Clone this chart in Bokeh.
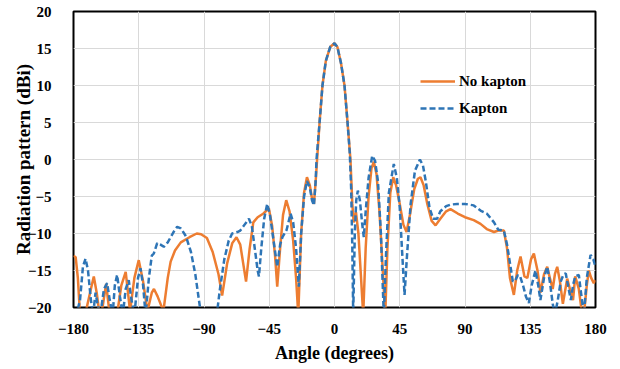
from bokeh.plotting import figure
from bokeh.models import FixedTicker
from bokeh.embed import file_html
from bokeh.resources import INLINE

# ---- data ----
x_ticks = [-180, -135, -90, -45, 0, 45, 90, 135, 180]
y_ticks = [-20, -15, -10, -5, 0, 5, 10, 15, 20]

nk_angle = [-180, -178.5, -177, -175.5, -172, -168, -166, -164, -162, -160, -157.5, -155,
            -150, -147, -144, -141, -138, -135, -132, -129, -126, -124.5, -122, -118, -115,
            -113, -110, -106, -100, -95, -92, -88, -84, -80, -77.5, -74, -70.5, -67.6, -65,
            -63, -61, -58.5, -56, -53, -49, -45.3, -43, -41, -39.5, -37.5, -35.5, -33.3, -31,
            -28.5, -26.5, -25, -23, -21, -19, -17, -15.5, -14.2, -13, -12, -10.3, -8.3, -6,
            -3, 0, 2, 4.5, 6.9, 9, 11, 12.3, 13.2, 14.8, 16.5, 18, 19.8, 21.5, 23.5, 25.5,
            27.1, 29, 31, 33, 35, 36.5, 38.5, 40.5, 42.5, 45, 47.5, 49.7, 52, 55, 57.5, 59.3,
            61.5, 64, 67, 69.7, 73, 77, 80, 85, 90, 96, 100.7, 105, 110, 113, 116.8, 119, 121,
            123.7, 126, 128.3, 131, 133, 135.5, 137.5, 140, 142, 144.5, 146.7, 148.5, 150.5,
            152, 153.6, 155.5, 157.5, 160.5, 163, 164.5, 166, 168.5, 170.5, 172, 174, 175.4,
            177, 178.8, 180]
nk_db = [-13.0, -13.2, -16, -21, -21, -17.5, -15.8, -18, -21, -20, -16.8, -21,
         -21, -17, -15.2, -20.5, -16, -13.6, -16.5, -20.5, -18, -17.5, -18.5, -20.5, -16,
         -13.8, -12.3, -11.2, -10.5, -10, -10.1, -10.6, -12.5, -15.5, -18.4, -14, -11.3, -10.5, -11.5,
         -14, -16.5, -12, -8.5, -7.8, -7.3, -6.6, -9, -13, -17.2, -12, -7.5, -5.5, -7,
         -11, -16, -21, -10, -4.5, -2.4, -3.5, -5.3, -6, -3, 0, 5, 10, 13.3,
         15.2, 15.7, 15.2, 13, 10, 5, 0, -6, -8.5, -7.1, -10, -15, -21, -12, -5, -1.2,
         -0.3, -2, -7, -14, -21, -12, -4.5, -2.4, -3.5, -6, -8.8, -9.8, -7.5, -4, -2.6, -2.4,
         -3.5, -6, -8.3, -8.9, -8, -7, -6.7, -7.3, -7.8, -8.2, -8.7, -9.4, -9.8, -9.6, -9.6, -12, -16,
         -18.3, -15, -13.1, -15.8, -16, -13.5, -12.7, -15, -18, -15.5, -14.5, -16, -17.5,
         -15.5, -14.5, -16.5, -19.5, -16.1, -18, -19, -15.8, -17.5, -20.5, -21, -17, -15,
         -16, -16.7, -16.3]

k_angle = [-180, -178, -175.5, -173.5, -171.7, -170, -168, -166.5, -164.8, -163.5, -161.5,
           -159, -156.8, -155, -153, -151.5, -149.9, -148, -146, -144, -141.9, -140, -138,
           -135.5, -133.8, -132, -130.3, -128, -126, -124.6, -122.3, -120, -117.7, -115, -111,
           -108.5, -106, -103, -101.6, -99, -96, -92.4, -88, -83, -80.9, -79, -76, -73, -70.6,
           -67, -65, -62, -59, -57, -55, -53, -52.1, -50.5, -48.5, -46.4, -44.5, -42, -39.5,
           -37.5, -35.9, -33, -30.3, -28.5, -26.5, -24.6, -23, -21, -19, -17, -15.5, -14.2,
           -13, -12.4, -10.3, -8.3, -6, -3, 0, 2, 4.5, 6.9, 9, 10.5, 11.5, 12.3, 12.9, 14, 15,
           16.1, 17.5, 19, 20.2, 21.5, 23.5, 26, 28, 30, 32, 34, 35.5, 37.5, 40.9, 43, 45,
           46.5, 48.3, 50, 52.5, 55.5, 58.9, 61, 63, 65.5, 68, 70.8, 73, 77, 80, 84.6, 90, 96,
           100.7, 105, 110, 113, 116.8, 119, 121, 123, 124.8, 126.5, 128, 130, 132, 134, 136,
           138.6, 140.5, 142, 144.5, 146.7, 148.5, 150.5, 152, 154, 156, 158, 159.5, 161, 163,
           164.5, 166, 168.5, 170, 172, 174, 176.6, 178.5, 180]
k_db = [-21, -21, -19, -14.5, -13.4, -15, -19, -21, -18, -19.5, -21,
        -17.5, -16.7, -19, -21, -17, -15.6, -18.5, -21, -17.5, -16.3, -19, -21,
        -16, -14.7, -17, -21, -16, -13, -12.7, -11.3, -11.5, -11.8, -11.2, -9.8,
        -9.1, -9.3, -10.2, -10.9, -12.5, -15.5, -20.5, -22, -22, -20.5, -17.5, -13.5, -11, -10.0,
        -9.8, -9.6, -8.8, -8.0, -9, -12, -15, -15.8, -12, -8, -6.0, -7.5, -11, -14.5,
        -11.5, -10.5, -9.5, -7.3, -8.5, -12, -17.2, -10, -5, -2.9, -3.8, -5.5, -6.2,
        -3, 0, 5, 10, 13.3, 15.2, 15.7, 15.2, 13, 10, 5, 1, -4, -12, -21, -10, -5.5,
        -4.2, -5.5, -8.5, -10.5, -7, -2.5, 0.5, -0.2, -3, -10, -21, -13, -4.5, -0.6, -2.5, -6.5,
        -12, -18.3, -13, -6, -1.5, 0, -0.8, -3, -6.5, -8, -8.0, -7, -6.3, -6.1, -6.0, -6.0, -6.2,
        -6.9, -7.3, -8.5, -9.5, -9.6, -11.5, -14, -16.5, -16.3, -15.6, -15.8, -17, -18.5, -19.4, -17,
        -15, -17, -19, -16, -14.5, -16.5, -19.5, -21, -19, -16.5, -15.5, -15.4, -17, -19,
        -17, -15.8, -15.6, -18, -21, -16, -12.9, -13.5, -14.5]

ORANGE = "#ED7D31"
BLUE = "#2E75B6"
FONT = "Liberation Serif"

p = figure(width=612, height=365, output_backend="svg", toolbar_location=None,
           x_range=(-180, 180), y_range=(-20, 20),
           min_border_left=73, min_border_right=17, min_border_top=11, min_border_bottom=57)

p.line(nk_angle, nk_db, line_color=ORANGE, line_width=2.5, legend_label="No kapton")
p.line(k_angle, k_db, line_color=BLUE, line_width=2.5, line_dash="6 3", legend_label="Kapton")

p.xaxis.ticker = FixedTicker(ticks=x_ticks)
p.yaxis.ticker = FixedTicker(ticks=y_ticks)
for ax in (p.xaxis[0], p.yaxis[0]):
    ax.axis_line_color = None
    ax.major_tick_line_color = None
    ax.minor_tick_line_color = None
    ax.major_label_text_font = FONT
    ax.major_label_text_font_style = "bold"
    ax.major_label_text_font_size = "15px"
    ax.major_label_text_color = "#000000"
    ax.axis_label_text_font = FONT
    ax.axis_label_text_font_style = "bold"
    ax.axis_label_text_color = "#000000"

p.xaxis.axis_label = "Angle (degrees)"
p.yaxis.axis_label = "Radiation pattern (dBi)"
p.xaxis.axis_label_text_font_size = "18px"
p.yaxis.axis_label_text_font_size = "19px"
p.xaxis.major_label_standoff = 10
p.yaxis.major_label_standoff = 16
p.xaxis.axis_label_standoff = 6
p.yaxis.axis_label_standoff = -9

p.xgrid.grid_line_color = "#D9D9D9"
p.ygrid.grid_line_color = "#D9D9D9"
p.xgrid.grid_line_width = 1
p.ygrid.grid_line_width = 1

p.outline_line_color = "black"
p.outline_line_width = 2
p.background_fill_color = "white"
p.border_fill_color = "white"

lg = p.legend[0]
lg.location = (347, 189)
lg.background_fill_alpha = 0
lg.border_line_color = None
lg.padding = 0
lg.margin = 0
lg.spacing = 7
lg.glyph_width = 35
lg.glyph_height = 20
lg.label_standoff = 4
lg.label_text_font = FONT
lg.label_text_font_style = "bold"
lg.label_text_font_size = "15px"
lg.label_text_color = "#000000"

open("out.html", "w").write(file_html(p, INLINE))
